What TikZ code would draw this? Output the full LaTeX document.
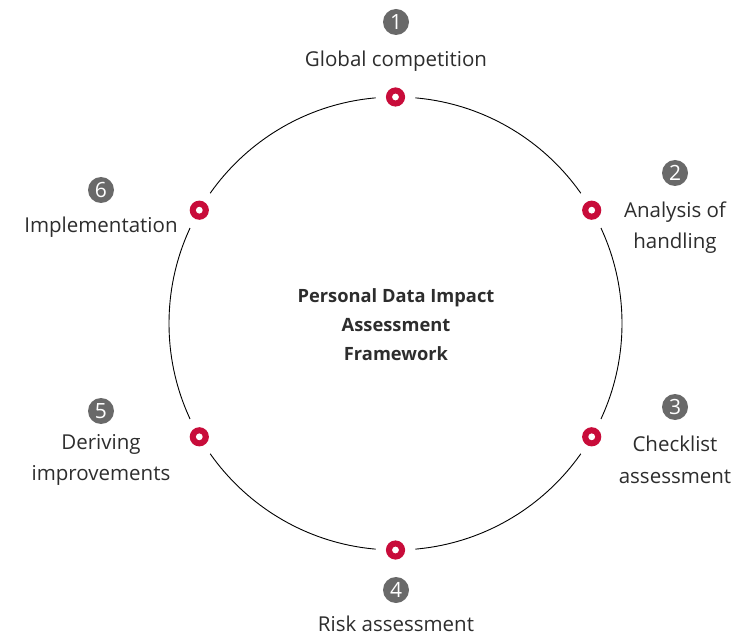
\documentclass[tikz,border=0pt]{standalone}
\usepackage{fontspec}
\setmainfont{Open Sans}
\definecolor{lgred}{RGB}{200,12,58}
\definecolor{numgrey}{RGB}{105,105,105}
\definecolor{txtgrey}{RGB}{45,45,45}
\begin{document}
\begin{tikzpicture}[x=1pt,y=-1pt,
  dotmark/.style={circle,fill=white,inner sep=0pt,minimum size=40pt,
    path picture={\fill[lgred] (path picture bounding box.center) circle (9.6pt);
      \fill[white] (path picture bounding box.center) circle (3.4pt);}},
  numbadge/.style={circle,fill=numgrey,text=white,inner sep=0pt,minimum size=26pt,
    font=\fontsize{21}{21}\selectfont},
  lbl/.style={text=txtgrey,align=center,font=\fontsize{20.5}{31.5}\selectfont},
  ctr/.style={text=txtgrey,align=center,font=\bfseries\fontsize{18.3}{29}\selectfont}]
\useasboundingbox (0,0) rectangle (736,636);
\coordinate (c) at (395.5,323.5);
\draw[black,line width=0.9pt] (c) circle (226.5);
% dots
\node[dotmark] (d1) at (395.5,97) {};
\node[dotmark] (d2) at (591.7,210.2) {};
\node[dotmark] (d3) at (591.7,436.8) {};
\node[dotmark] (d4) at (395.5,550) {};
\node[dotmark] (d5) at (199.3,436.8) {};
\node[dotmark] (d6) at (199.3,210.2) {};
% badges
\node[numbadge] (n1) at (396,22) {1};
\node[numbadge] (n2) at (675,173) {2};
\node[numbadge] (n3) at (675,407) {3};
\node[numbadge] (n4) at (396,590) {4};
\node[numbadge] (n5) at (101,411) {5};
\node[numbadge] (n6) at (101,190) {6};
% labels
\node[lbl] (l1) at (396,61) {Global competition};
\node[lbl] (l2) at (675,227.5) {Analysis of\\handling};
\node[lbl] (l3) at (675,460) {Checklist\\assessment};
\node[lbl] (l4) at (396,624) {Risk assessment};
\node[lbl] (l5) at (101,460) {Deriving\\improvements};
\node[lbl] (l6) at (101,227) {Implementation};
\node[ctr] (t) at (396,325) {Personal Data Impact\\Assessment\\Framework};
\end{tikzpicture}
\end{document}
